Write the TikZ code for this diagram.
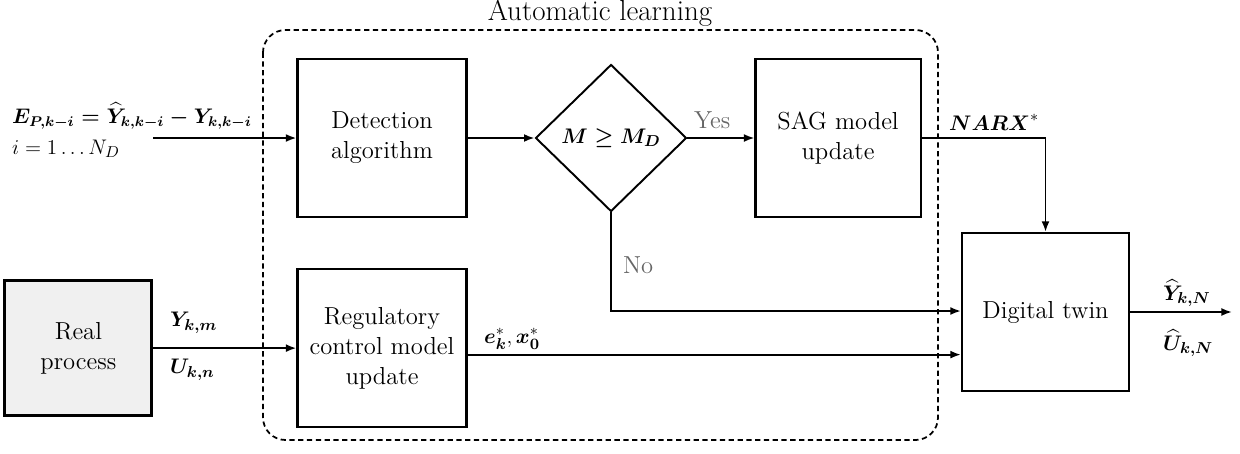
\documentclass[tikz,border=0pt]{standalone}
\usepackage{amsmath,amssymb}
\usetikzlibrary{arrows.meta,positioning,shapes.geometric}
\tikzstyle{block}=[
	rectangle,
	draw,
	line width=1.2pt,
	minimum width=3.38cm,
	minimum height=3.16cm,
	align=center,
	font=\fontsize{14}{17}\selectfont
]
\tikzstyle{decision}=[
	diamond,
	draw,
	line width=1.1pt,
	inner sep=0pt,
	minimum width=3.02cm,
	minimum height=2.94cm,
	font=\fontsize{13}{16}\selectfont
]
\tikzstyle{signal}=[
	-{Latex[length=6pt,width=4.5pt]},
	line width=1.1pt
]
\tikzstyle{sig label}=[
	font=\fontsize{12.5}{15}\selectfont,
	inner sep=1pt,
	anchor=west
]
\tikzstyle{answer}=[
	font=\fontsize{14}{17}\selectfont,
	text=black!60,
	inner sep=1pt,
	anchor=west
]

\begin{document}
\begin{tikzpicture}
\useasboundingbox (0,0) rectangle (24.8,-9.06);
\draw [line width=1pt, dash pattern=on 3pt off 2pt, rounded corners=0.45cm] (5.26,-0.6) rectangle (18.76,-8.8);
\node [font=\fontsize{16.5}{19}\selectfont] (title) at (12.0,-0.27) {Automatic learning};
\node [block] (detect) at (7.64,-2.76) {Detection\\algorithm};
\node [decision] (check)[right=1.34cm of detect] {$\boldsymbol{M \geq M_D}$};
\node [block, minimum width=3.3cm] (sag)[right=1.34cm of check] {SAG model\\update};
\node [block] (regul)[below=1.0cm of detect] {Regulatory\\control model\\update};
\node [block, fill=black!6, line width=1.8pt, minimum width=2.94cm, minimum height=2.7cm] (real)[left=2.86cm of regul] {Real\\process};
\node [block, minimum width=3.34cm] (twin) at (20.91,-6.24) {Digital twin};
\coordinate (error in) at (3.06,-2.76);
\coordinate (twin out) at (24.64,-6.24);
\coordinate (regul out) at ([yshift=-0.13cm]regul.east);
\node [sig label, font=\fontsize{11.8}{14}\selectfont] (error) at (0.2,-2.32) {$\boldsymbol{E_{P,k-i} = \widehat{Y}_{k,k-i} - Y_{k,k-i}}$};
\node [sig label, font=\fontsize{13}{15}\selectfont] (index) at (0.2,-2.98) {$i = 1 \ldots N_D$};
\node [answer] (yes) at (13.84,-2.4) {Yes};
\node [answer] (no) at (12.42,-5.3) {No};
\node [sig label] (narx) at (18.94,-2.44) {$\boldsymbol{NARX}^{*}$};
\node [sig label] (ykm) at (3.36,-6.46) {$\boldsymbol{Y_{k,m}}$};
\node [sig label] (ukn) at (3.36,-7.4) {$\boldsymbol{U_{k,n}}$};
\node [sig label] (ex) at (9.64,-6.78) {$\boldsymbol{e}^{*}_{\boldsymbol{k}}, \boldsymbol{x}^{*}_{\boldsymbol{0}}$};
\node [sig label] (yhat) at (23.22,-5.86) {$\boldsymbol{\widehat{Y}_{k,N}}$};
\node [sig label] (uhat) at (23.22,-6.86) {$\boldsymbol{\widehat{U}_{k,N}}$};
\draw [signal] (error in) -- (detect.west);
\draw [signal] (detect.east) -- (check.west);
\draw [signal] (check.east) -- (sag.west);
\draw [signal] (sag.east) -| (twin.north);
\draw [signal] (check.south) |- ([yshift=0.02cm]twin.west);
\draw [signal] (real.east) -- (regul.west);
\draw [signal] (regul out) -- (regul out -| twin.west);
\draw [signal] (twin.east) -- (twin out);
\end{tikzpicture}
\end{document}
